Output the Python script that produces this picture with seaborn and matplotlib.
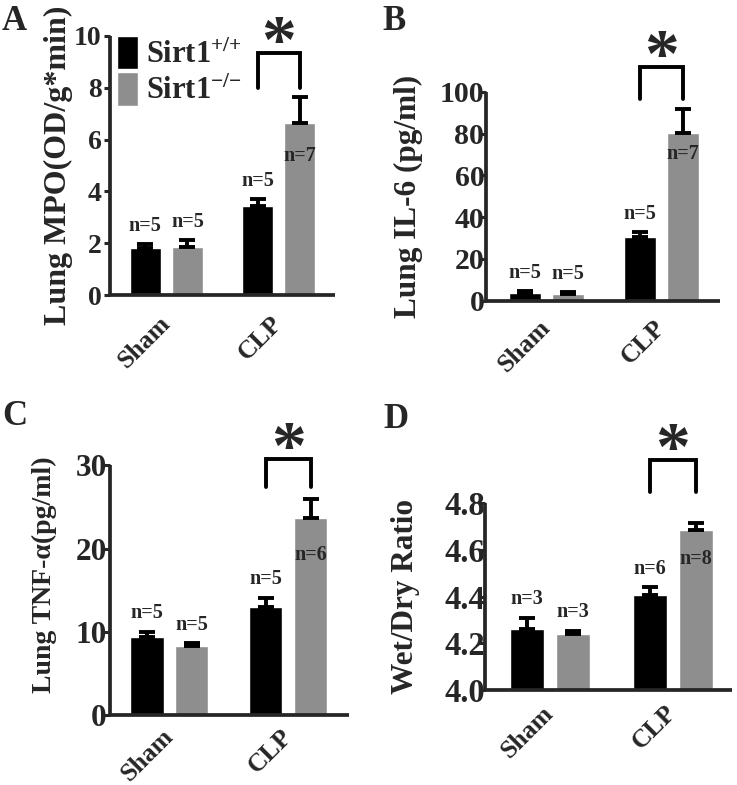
import numpy as np
import pandas as pd
import seaborn as sns
import matplotlib.pyplot as plt

conditions = ["Sham", "CLP"]
genotypes = ["Sirt1$^{{+}/{+}}$", "Sirt1$^{{-}/{-}}$"]
bar_colors = ["#000000", "#8e8e8e"]

# Panel A: lung MPO
mpo_wt = [1.82, 3.44]
mpo_ko = [1.84, 6.65]
mpo_wt_err = [0.14, 0.27]
mpo_ko_err = [0.28, 0.98]
mpo_wt_n = [5, 5]
mpo_ko_n = [5, 7]

# Panel B: lung IL-6
il6_wt = [3.8, 30.3]
il6_ko = [3.3, 80.4]
il6_wt_err = [0.7, 2.5]
il6_ko_err = [0.8, 11.2]
il6_wt_n = [5, 5]
il6_ko_n = [5, 7]

# Panel C: lung TNF-alpha
tnf_wt = [9.4, 13.0]
tnf_ko = [8.3, 23.7]
tnf_wt_err = [0.6, 1.1]
tnf_ko_err = [0.3, 2.2]
tnf_wt_n = [5, 5]
tnf_ko_n = [5, 6]

# Panel D: wet/dry ratio
wd_wt = [4.26, 4.405]
wd_ko = [4.239, 4.686]
wd_wt_err = [0.05, 0.035]
wd_ko_err = [0.015, 0.028]
wd_wt_n = [3, 6]
wd_ko_n = [3, 8]

# significance bracket (bottom, top) over CLP bars
brackets = [(8.0, 9.34), (96.5, 112.0), (27.4, 30.8), (4.85, 4.987)]

panels = [
    dict(letter="A", ylabel="Lung MPO(OD/g*min)", wt=mpo_wt, ko=mpo_ko, wt_err=mpo_wt_err, ko_err=mpo_ko_err,
         wt_n=mpo_wt_n, ko_n=mpo_ko_n, ylim=(0, 10), yticks=[0, 2, 4, 6, 8, 10], fmt="%d",
         rect=[0.1493, 0.6242, 0.3053, 0.330], xlim=(-0.5, 1.5), lab=(-0.164, 0.5), labsize=23,
         let=(2, 30), inside=-16.5, ysize=20, ypad=1.5, xpad=18),
    dict(letter="B", ylabel="Lung IL-6 (pg/ml)", wt=il6_wt, ko=il6_ko, wt_err=il6_wt_err, ko_err=il6_ko_err,
         wt_n=il6_wt_n, ko_n=il6_ko_n, ylim=(0, 100), yticks=[0, 20, 40, 60, 80, 100], fmt="%d",
         rect=[0.660, 0.617, 0.317, 0.266], xlim=(-0.52, 1.51), lab=(-0.273, 0.5), labsize=22.5,
         let=(382, 30), inside=-8, ysize=21.5, ypad=-3, xpad=16.5),
    dict(letter="C", ylabel="Lung TNF-α(pg/ml)", wt=tnf_wt, ko=tnf_ko, wt_err=tnf_wt_err, ko_err=tnf_ko_err,
         wt_n=tnf_wt_n, ko_n=tnf_ko_n, ylim=(0, 30), yticks=[0, 10, 20, 30], fmt="%d",
         rect=[0.149, 0.0892, 0.3245, 0.318], xlim=(-0.5, 1.51), lab=(-0.222, 0.56), labsize=20,
         let=(2, 425), inside=-19.5, ysize=22.5, ypad=-2.3, xpad=13),
    dict(letter="D", ylabel="Wet/Dry Ratio", wt=wd_wt, ko=wd_ko, wt_err=wd_wt_err, ko_err=wd_ko_err,
         wt_n=wd_wt_n, ko_n=wd_ko_n, ylim=(4.0, 4.8), yticks=[4.0, 4.2, 4.4, 4.6, 4.8], fmt="%.1f",
         rect=[0.658, 0.121, 0.335, 0.238], xlim=(-0.53, 1.48), lab=(-0.263, 0.5), labsize=22.5,
         let=(383, 428), inside=-14, ysize=23.5, ypad=-4.5, xpad=14),
]

sns.set_style("ticks")
plt.rcParams['font.family'] = ['Liberation Serif', 'DejaVu Serif']
plt.rcParams['font.weight'] = 'bold'
plt.rcParams['axes.labelweight'] = 'bold'
plt.rcParams['mathtext.fontset'] = 'custom'
plt.rcParams['mathtext.rm'] = 'Liberation Serif:bold'
plt.rcParams['mathtext.it'] = 'Liberation Serif:bold'
plt.rcParams['mathtext.bf'] = 'Liberation Serif:bold'

fig = plt.figure(figsize=(7.37, 7.85), dpi=100)

for i, p in enumerate(panels):
    ax = fig.add_axes(p["rect"])
    df = pd.DataFrame({
        "condition": conditions * 2,
        "genotype": [genotypes[0]] * 2 + [genotypes[1]] * 2,
        "value": p["wt"] + p["ko"],
        "err": p["wt_err"] + p["ko_err"],
        "n": p["wt_n"] + p["ko_n"],
    })
    sns.barplot(data=df, x="condition", y="value", hue="genotype", order=conditions,
                hue_order=genotypes, palette=bar_colors, width=0.75, gap=0.26,
                errorbar=None, legend=(i == 0), ax=ax, saturation=1)
    bar_conts = list(ax.containers)

    ax.set_xlim(*p["xlim"])
    ax.set_ylim(*p["ylim"])
    ax.set_yticks(p["yticks"])
    ax.set_yticklabels([p["fmt"] % t for t in p["yticks"]])
    ax.set_xlabel("")
    ax.set_ylabel(p["ylabel"], fontsize=p["labsize"], fontweight="bold")
    ax.yaxis.set_label_coords(*p["lab"])
    ax.tick_params(axis="y", labelsize=p["ysize"], length=4.5, width=2.2, pad=p["ypad"])
    ax.tick_params(axis="x", labelsize=18.5, length=0, pad=p["xpad"], labelrotation=45)
    plt.setp(ax.get_xticklabels(), ha="right", va="center", rotation_mode="anchor")
    sns.despine(ax=ax)
    for s in ["left", "bottom"]:
        ax.spines[s].set_linewidth(2.7)
        ax.spines[s].set_capstyle("butt")

    # error bars (upper only) and n labels
    for g, cont in enumerate(bar_conts):
        sub = df[df["genotype"] == genotypes[g]].reset_index(drop=True)
        for j, bar in enumerate(cont):
            x = bar.get_x() + bar.get_width() / 2
            top = sub["value"][j]
            e = sub["err"][j]
            ax.errorbar(x, top, yerr=[[0], [e]], fmt="none", ecolor="black",
                        elinewidth=2.8, capsize=6, capthick=2.8, clip_on=False)
            if g == 1 and j == 1:
                ax.annotate("n=%d" % sub["n"][j], (x, top), xytext=(0, p["inside"]), textcoords="offset points",
                            ha="center", va="top", fontsize=14.5, fontweight="bold")
            else:
                ax.annotate("n=%d" % sub["n"][j], (x, top + e), xytext=(0, 6), textcoords="offset points",
                            ha="center", va="bottom", fontsize=14.5, fontweight="bold")

    # significance bracket
    x0 = bar_conts[0][1].get_x() + bar_conts[0][1].get_width() / 2
    x1 = bar_conts[1][1].get_x() + bar_conts[1][1].get_width() / 2
    lo, hi = brackets[i]
    ax.plot([x0, x0, x1, x1], [lo, hi, hi, lo], color="black", lw=2.8, clip_on=False,
            solid_joinstyle="miter")
    ax.annotate("*", ((x0 + x1) / 2, hi), xytext=(0, -18), textcoords="offset points",
                ha="center", va="bottom", fontsize=50, fontweight="bold", annotation_clip=False)

    if i == 0:
        h, l = ax.get_legend_handles_labels()
        ax.legend(h, l, loc="upper left", bbox_to_anchor=(0.03, 1.0), frameon=False, fontsize=22,
                  handlelength=0.7, handleheight=1.3, handletextpad=0.25, labelspacing=0.08,
                  borderaxespad=0, borderpad=0)

    fig.text(p["let"][0] / 737, 1 - p["let"][1] / 785, p["letter"], fontsize=25,
             fontweight="bold", ha="left", va="baseline")

fig.savefig("out.png", dpi=100)
